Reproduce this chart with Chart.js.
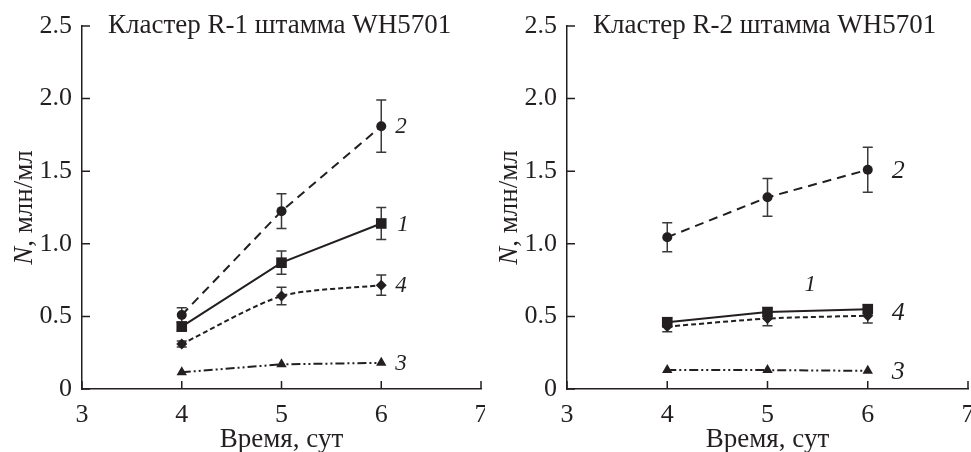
<!DOCTYPE html>
<html><head><meta charset="utf-8">
<script src="https://cdn.jsdelivr.net/npm/chart.js@4"></script>
<style>
html,body{margin:0;padding:0;background:#fff;}
#wrap{position:relative;width:971px;height:452px;overflow:hidden;}
.c{position:absolute;top:0;height:452px;}
</style></head><body>
<div id="wrap">
<div class="c" style="left:0;width:485px"><canvas id="c1"></canvas></div>
<div class="c" style="left:485px;width:486px"><canvas id="c2"></canvas></div>
</div>
<script>
// ---------- data ----------
const days = [4, 5, 6];
const xTickValues = [3, 4, 5, 6, 7];
const yTickValues = [0, 0.5, 1.0, 1.5, 2.0, 2.5];
const seriesLabels = ['1', '2', '3', '4'];
const panelTitles = ['Кластер R-1 штамма WH5701', 'Кластер R-2 штамма WH5701'];
const xAxisTitle = 'Время, сут';
const yAxisTitleItalic = 'N';
const yAxisTitleRest = ', млн/мл';

// Panel R-1
const r1_s1 = [0.43, 0.87, 1.14];
const r1_s1_err = [0.03, 0.08, 0.11];
const r1_s2 = [0.51, 1.225, 1.81];
const r1_s2_err = [0.05, 0.12, 0.18];
const r1_s3 = [0.115, 0.17, 0.18];
const r1_s3_err = [0, 0, 0];
const r1_s4 = [0.31, 0.64, 0.715];
const r1_s4_err = [0.02, 0.06, 0.07];

// Panel R-2
const r2_s1 = [0.46, 0.53, 0.55];
const r2_s1_err = [0.03, 0.03, 0.03];
const r2_s2 = [1.045, 1.32, 1.51];
const r2_s2_err = [0.10, 0.13, 0.155];
const r2_s3 = [0.13, 0.13, 0.125];
const r2_s3_err = [0, 0, 0];
const r2_s4 = [0.43, 0.485, 0.505];
const r2_s4_err = [0.035, 0.05, 0.05];

// ---------- styles ----------
const INK = '#231f20';
const SERIF = '"Liberation Serif", "DejaVu Serif", serif';
const styles = [
  {pointStyle: 'rect', radius: 7.5, dash: [], tension: 0},
  {pointStyle: 'circle', radius: 5, dash: [9, 6], tension: 0},
  {pointStyle: 'triangle', radius: 6, dash: [9, 3, 2, 3, 2, 3], tension: 0},
  {pointStyle: 'rectRot', radius: 5.5, dash: [5, 3], tension: 0.25}
];

function makeDatasets(vals, errs) {
  return vals.map((v, i) => ({
    label: seriesLabels[i],
    data: days.map((d, k) => ({x: d, y: v[k]})),
    errors: errs[i],
    borderColor: INK,
    backgroundColor: INK,
    borderWidth: 2,
    borderDash: styles[i].dash,
    pointStyle: styles[i].pointStyle,
    pointRadius: styles[i].radius,
    pointBackgroundColor: INK,
    pointBorderColor: INK,
    pointBorderWidth: 0,
    tension: styles[i].tension,
    fill: false,
    clip: false
  }));
}

// series label annotations: [series index, point index, dx px, dy px, font px]
const labelPlacement = [
  [[1, 2, 14, 0, 23], [0, 2, 16, 0, 23], [3, 2, 14, 0, 23], [2, 2, 14, 0, 23]],
  [[1, 2, 24, 0, 26], [0, 1, 37, -28, 23], [3, 2, 24, -4, 26], [2, 2, 24, 0, 26]]
];

function decorPlugin(panel) {
  return {
    id: 'decor' + panel,
    beforeDatasetsDraw(chart) {
      const ctx = chart.ctx, xs = chart.scales.x, ys = chart.scales.y;
      ctx.save();
      ctx.strokeStyle = '#3a3a3a';
      ctx.lineWidth = 1.5;
      ctx.setLineDash([]);
      chart.data.datasets.forEach(ds => {
        ds.data.forEach((p, k) => {
          const e = ds.errors[k];
          if (!e) return;
          const px = xs.getPixelForValue(p.x);
          const y1 = ys.getPixelForValue(p.y + e);
          const y2 = ys.getPixelForValue(p.y - e);
          ctx.beginPath();
          ctx.moveTo(px, y1); ctx.lineTo(px, y2);
          ctx.moveTo(px - 5, y1); ctx.lineTo(px + 5, y1);
          ctx.moveTo(px - 5, y2); ctx.lineTo(px + 5, y2);
          ctx.stroke();
        });
      });
      ctx.restore();
    },
    afterDraw(chart) {
      const ctx = chart.ctx, xs = chart.scales.x, ys = chart.scales.y;
      const a = chart.chartArea;
      ctx.save();
      // inward ticks
      ctx.strokeStyle = INK;
      ctx.lineWidth = 1.5;
      ctx.beginPath();
      yTickValues.forEach(v => {
        const py = ys.getPixelForValue(v);
        ctx.moveTo(a.left, py); ctx.lineTo(a.left + 8, py);
      });
      xTickValues.forEach(v => {
        const px = xs.getPixelForValue(v);
        ctx.moveTo(px, a.bottom); ctx.lineTo(px, a.bottom - 8);
      });
      ctx.stroke();
      // panel title
      ctx.fillStyle = INK;
      ctx.font = '27px ' + SERIF;
      ctx.textAlign = 'left';
      ctx.textBaseline = 'alphabetic';
      ctx.fillText(panelTitles[panel], a.left + 26, 33);
      // x axis title
      ctx.font = '27px ' + SERIF;
      ctx.textAlign = 'center';
      ctx.fillText(xAxisTitle, (a.left + a.right) / 2, 447);
      // y axis title (rotated)
      ctx.save();
      ctx.translate(32, (a.top + a.bottom) / 2);
      ctx.rotate(-Math.PI / 2);
      ctx.font = 'italic 27px ' + SERIF;
      const w1 = ctx.measureText(yAxisTitleItalic).width;
      ctx.font = '27px ' + SERIF;
      const w2 = ctx.measureText(yAxisTitleRest).width;
      const start = -(w1 + w2) / 2;
      ctx.textAlign = 'left';
      ctx.font = 'italic 27px ' + SERIF;
      ctx.fillText(yAxisTitleItalic, start, 0);
      ctx.font = '27px ' + SERIF;
      ctx.fillText(yAxisTitleRest, start + w1, 0);
      ctx.restore();
      // series labels
      ctx.textAlign = 'left';
      ctx.textBaseline = 'middle';
      labelPlacement[panel].forEach(([si, pi, dx, dy, fs]) => {
        const p = chart.data.datasets[si].data[pi];
        const px = xs.getPixelForValue(p.x) + dx;
        const py = ys.getPixelForValue(p.y) + dy;
        ctx.font = 'italic ' + fs + 'px ' + SERIF;
        ctx.fillText(seriesLabels[si], px, py + 1);
      });
      ctx.restore();
    }
  };
}

function makeChart(id, panel, vals, errs, rightPad) {
  return new Chart(document.getElementById(id), {
    type: 'line',
    data: {datasets: makeDatasets(vals, errs)},
    options: {
      responsive: true,
      maintainAspectRatio: false,
      animation: false,
      events: [],
      layout: {autoPadding: false, padding: {top: 26, right: rightPad, left: 0, bottom: 0}},
      plugins: {legend: {display: false}, tooltip: {enabled: false}, title: {display: false}},
      scales: {
        x: {
          type: 'linear', min: 3, max: 7,
          afterBuildTicks: s => { s.ticks = xTickValues.map(v => ({value: v})); },
          afterFit: s => { s.height = 63; s.paddingLeft = 0; s.paddingRight = 0; },
          grid: {display: false, drawTicks: false},
          border: {display: true, color: INK, width: 1.5},
          ticks: {color: INK, font: {family: SERIF, size: 26}, padding: 11, maxRotation: 0,
                  callback: v => String(v)}
        },
        y: {
          type: 'linear', min: 0, max: 2.5,
          afterBuildTicks: s => { s.ticks = yTickValues.map(v => ({value: v})); },
          afterFit: s => { s.width = 82; s.paddingTop = 0; s.paddingBottom = 0; },
          grid: {display: false, drawTicks: false},
          border: {display: true, color: INK, width: 1.5},
          ticks: {color: INK, font: {family: SERIF, size: 26}, padding: 10,
                  callback: v => v === 0 ? '0' : v.toFixed(1)}
        }
      }
    },
    plugins: [decorPlugin(panel)]
  });
}

makeChart('c1', 0,
  [r1_s1, r1_s2, r1_s3, r1_s4],
  [r1_s1_err, r1_s2_err, r1_s3_err, r1_s4_err], 4);
makeChart('c2', 1,
  [r2_s1, r2_s2, r2_s3, r2_s4],
  [r2_s1_err, r2_s2_err, r2_s3_err, r2_s4_err], 3);
</script>
</body></html>
